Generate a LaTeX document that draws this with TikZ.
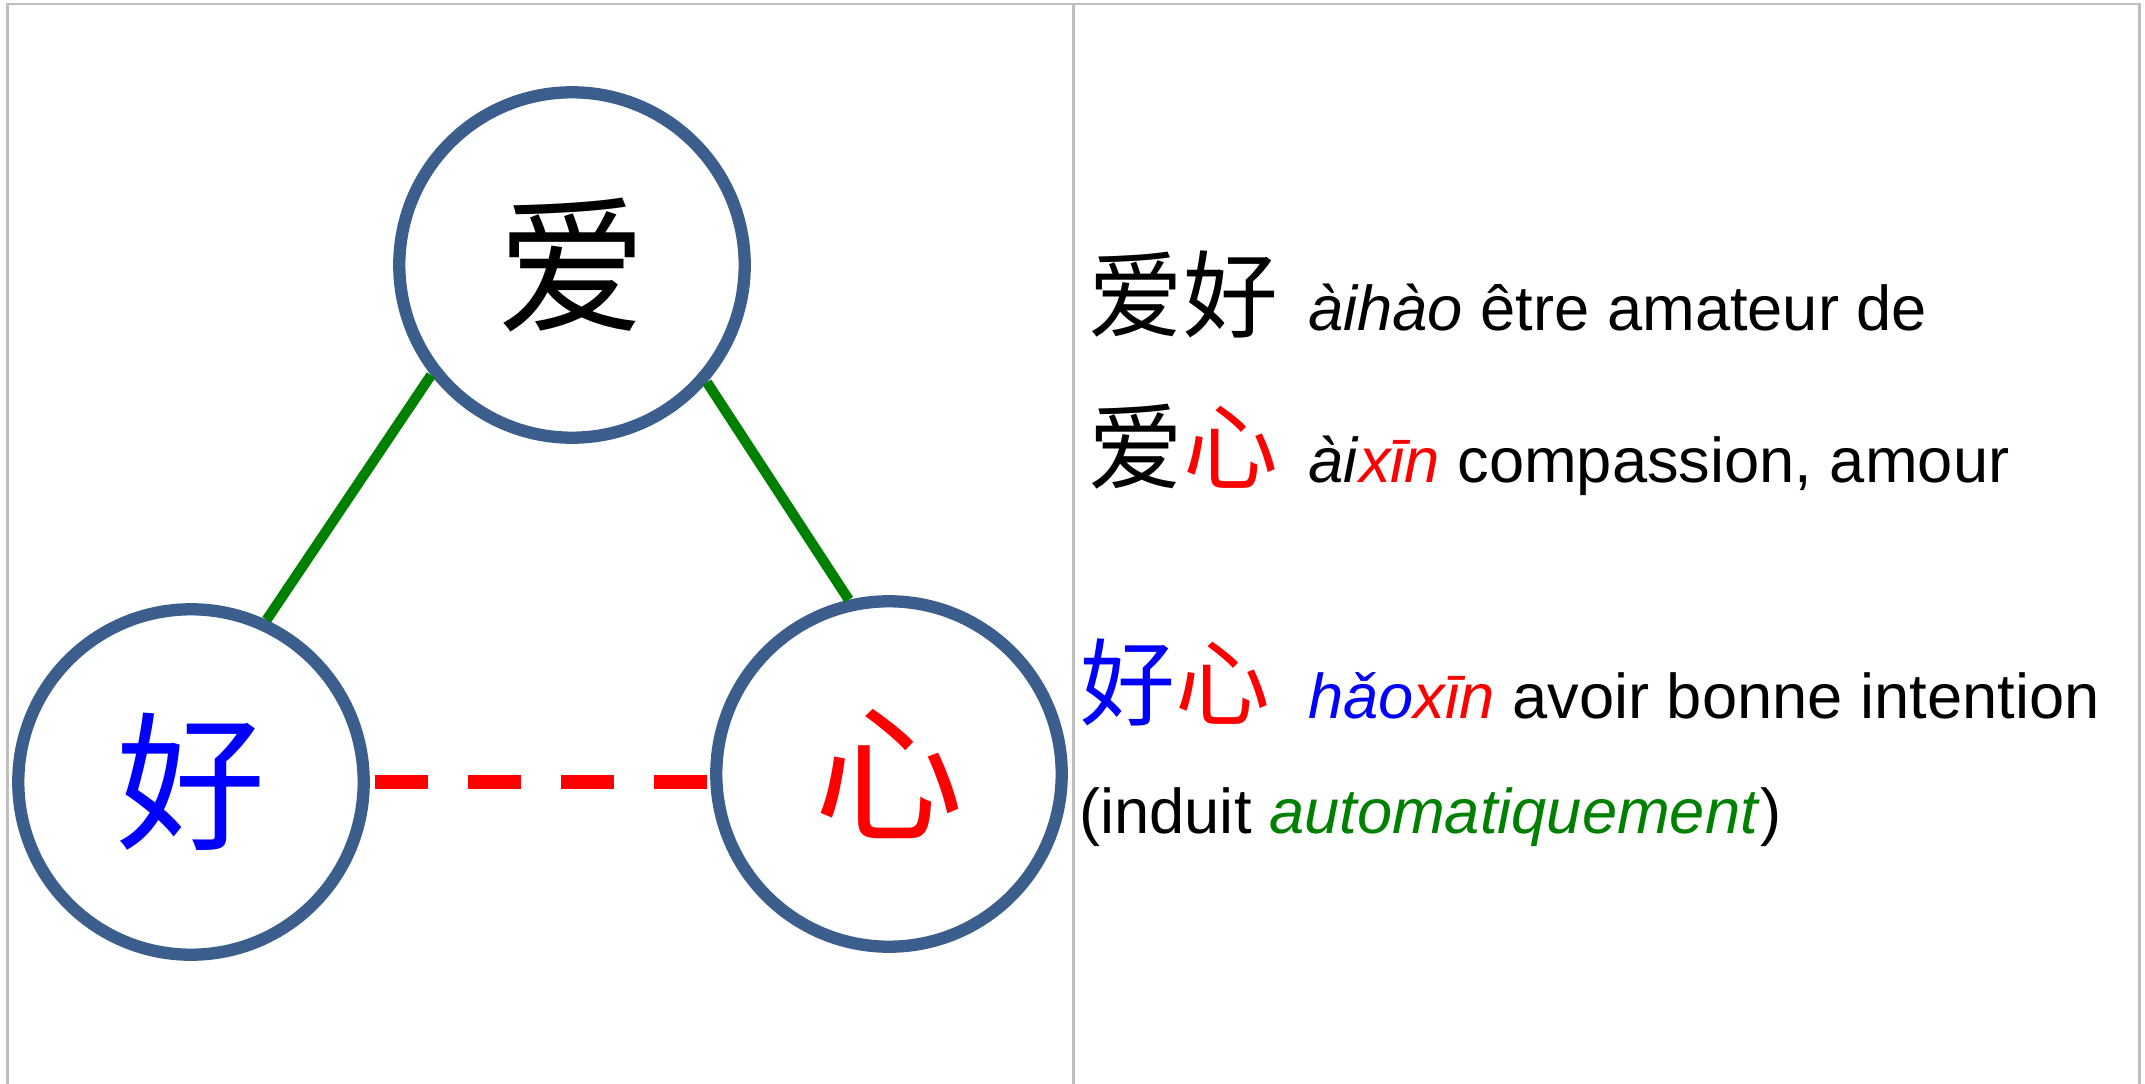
\documentclass[tikz,border=0pt]{standalone}
\usepackage{fontspec}
\setmainfont{Liberation Sans}
\newfontfamily\zh{Noto Sans CJK SC}
\definecolor{ringblue}{RGB}{59,94,140}
\definecolor{linkgreen}{RGB}{0,128,0}
\definecolor{framegray}{RGB}{191,191,191}
\tikzset{%
    hanzi/.style={circle,draw=ringblue,line width=7pt,minimum size=6.91cm,
        inner sep=0pt,font=\zh\fontsize{85}{90}\selectfont},
    link/.style={draw=linkgreen,line width=5.8pt},
    induced/.style={draw=red,line width=8.5pt,dash pattern=on 30.2pt off 22.8pt,
        shorten <=2.8pt},
    frame/.style={draw=framegray,line width=1.7pt},
    word/.style={anchor=base west,inner sep=0pt,font=\zh\fontsize{54}{60}\selectfont},
    gloss/.style={anchor=base west,inner sep=0pt,font=\fontsize{36}{40}\selectfont}
}

\begin{document}
\begin{tikzpicture}[x=0.02cm,y=-0.02cm]
    \useasboundingbox (0,0) rectangle (2145,1084);
    % table frame
    \draw[frame] (7.5,1084) -- (7.5,4) -- (2139,4) -- (2139,1084);
    \draw[frame] (1073.3,4) -- (1073.3,1084);
    %%%%% triangle
    \node [hanzi] (ai) at (572,265) {爱};
    \node [hanzi,text=blue] (hao) at (191,782) {好};
    \node [hanzi,text=red] (xin) at (889,774) {心};
    \draw[link] (ai.218.5) -- (hao.65.3);
    \draw[link] (ai.319.2) -- (xin.103.4);
    \draw[induced] (hao.east) -- (hao.east -| xin.west);
    %%%%% words
    \node [word] (w1) at (1088,331) {爱好};
    \node [gloss] (g1) at (1308,331) {\textit{àihào} être amateur de};
    \node [word] (w2) at (1088,482) {爱{\color{red}心}};
    \node [gloss] (g2) at (1308,482) {\textit{ài}{\color{red}\textit{xīn}} compassion, amour};
    \node [word] (w3) at (1080,718) {{\color{blue}好}{\color{red}心}};
    \node [gloss] (g3) at (1308,718) {{\color{blue}\textit{hǎo}}{\color{red}\textit{xīn}} avoir bonne intention};
    \node [gloss] (g4) at (1079,833) {(induit {\color{linkgreen}\textit{automatiquement}})};
\end{tikzpicture}
\end{document}
